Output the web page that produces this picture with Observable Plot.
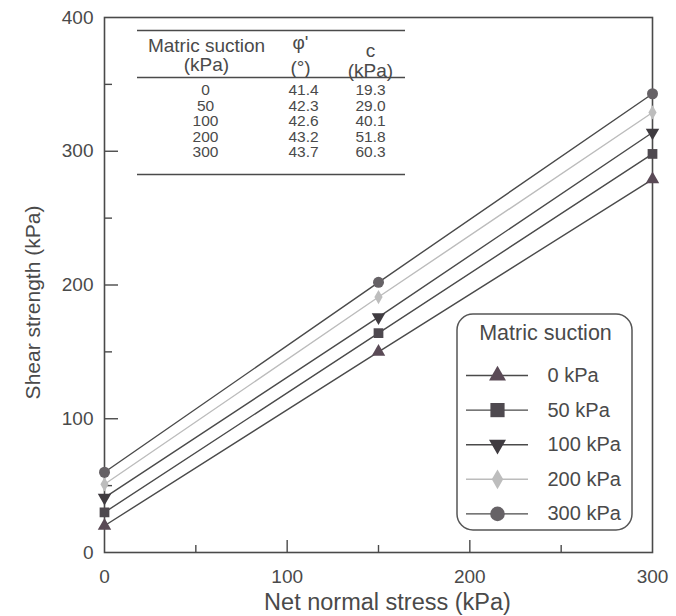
<!DOCTYPE html>
<html><head><meta charset="utf-8">
<script src="https://cdn.jsdelivr.net/npm/d3@7"></script>
<script src="https://cdn.jsdelivr.net/npm/@observablehq/plot@0.6"></script>
<style>html,body{margin:0;padding:0;background:#fff}</style>
</head><body><div id="chart"></div>
<script>
// ---- data ----
const seriesNames = ["0 kPa", "50 kPa", "100 kPa", "200 kPa", "300 kPa"];
const netStress = [0, 150, 300];
const strength0 = [20, 150, 279];
const strength50 = [30, 164, 298];
const strength100 = [41, 176, 314];
const strength200 = [51, 191, 329];
const strength300 = [60, 202, 343];
const strengthBySeries = [strength0, strength50, strength100, strength200, strength300];

const tableSuction = ["0", "50", "100", "200", "300"];
const tablePhi = ["41.4", "42.3", "42.6", "43.2", "43.7"];
const tableC = ["19.3", "29.0", "40.1", "51.8", "60.3"];

const xMajor = [0, 100, 200, 300];
const xMinor = [50, 150, 250];
const yMajor = [0, 100, 200, 300, 400];
const yMinor = [50, 150, 250, 350];

// ---- styles ----
const symbols = ["triangle", "square", "triangle", "diamond", "circle"];
const rotations = [0, 0, 180, 0, 0];
const markerFill = ["#5a4a56", "#4e494f", "#3f3b40", "#bdbdbd", "#666266"];
const lineStroke = ["#4a4a4a", "#4a4a4a", "#4a4a4a", "#bcbcbc", "#4a4a4a"];
const chartR = [5, 5.5, 5, 4.3, 5.5];
const legendR = [6.3, 8, 6.3, 6, 7.3];
const ink = "#4a4a4a";

const W = 676, H = 616, mL = 104, mR = 24, mT = 17, mB = 64;
const X = px => (px - mL) * 300 / (W - mL - mR);
const Y = py => (H - mB - py) * 400 / (H - mT - mB);

const rows = [];
seriesNames.forEach((s, i) => netStress.forEach((x, j) => rows.push({series: s, i, x, y: strengthBySeries[i][j]})));

const marks = [];
// axes (labels, inward ticks)
marks.push(Plot.axisX(xMajor, {tickSize: 0, tickPadding: 17, fontSize: 19, fill: ink, label: null}));
marks.push(Plot.axisX(xMajor.slice(1, -1), {tickSize: -12, tickFormat: () => "", stroke: ink, strokeWidth: 1.4, label: null}));
marks.push(Plot.axisX(xMinor, {tickSize: -7, tickFormat: () => "", stroke: ink, strokeWidth: 1.4, label: null}));
marks.push(Plot.axisY(yMajor, {tickSize: 0, tickPadding: 11, fontSize: 19, fill: ink, label: null}));
marks.push(Plot.axisY(yMajor.slice(1, -1), {tickSize: -14, tickFormat: () => "", stroke: ink, strokeWidth: 1.4, label: null}));
marks.push(Plot.axisY(yMinor, {tickSize: -8, tickFormat: () => "", stroke: ink, strokeWidth: 1.4, label: null}));
marks.push(Plot.frame({stroke: ink, strokeWidth: 1.6}));

// series lines and markers
seriesNames.forEach((s, i) => {
  const d = rows.filter(r => r.i === i);
  marks.push(Plot.line(d, {x: "x", y: "y", stroke: lineStroke[i], strokeWidth: 1.4}));
});
seriesNames.forEach((s, i) => {
  const d = rows.filter(r => r.i === i);
  marks.push(Plot.dot(d, {x: "x", y: "y", symbol: () => symbols[i], rotate: rotations[i], r: chartR[i], fill: markerFill[i], stroke: "none"}));
});

// axis titles
marks.push(Plot.text(["Net normal stress (kPa)"], {x: () => X(387), y: () => Y(602), fontSize: 23.5, fill: ink}));
marks.push(Plot.text(["Shear strength (kPa)"], {x: () => X(33), y: () => Y(302), rotate: -90, fontSize: 21, fill: ink}));

// inset table
marks.push(Plot.ruleY([30, 77, 174], {y: d => Y(d), x1: () => X(137), x2: () => X(405), stroke: ink, strokeWidth: 1.5}));
marks.push(Plot.text(["Matric suction\n(kPa)"], {x: () => X(206), y: () => Y(55), fontSize: 19, lineHeight: 1.0, fill: ink}));
marks.push(Plot.text(["φ'\n(°)"], {x: () => X(300), y: () => Y(53), fontSize: 19, lineHeight: 1.3, fill: ink}));
marks.push(Plot.text(["c\n(kPa)"], {x: () => X(370), y: () => Y(60), fontSize: 19, lineHeight: 1.05, fill: ink}));
marks.push(Plot.text([tableSuction.join("\n")], {x: () => X(205), y: () => Y(121), fontSize: 15.5, lineHeight: 1.0, fill: ink}));
marks.push(Plot.text([tablePhi.join("\n")], {x: () => X(303), y: () => Y(121), fontSize: 15.5, lineHeight: 1.0, fill: ink}));
marks.push(Plot.text([tableC.join("\n")], {x: () => X(370), y: () => Y(121), fontSize: 15.5, lineHeight: 1.0, fill: ink}));

// legend
marks.push(Plot.rect([0], {x1: () => X(457), x2: () => X(632), y1: () => Y(530), y2: () => Y(314), rx: 16, ry: 16, fill: "#fff", stroke: "#555", strokeWidth: 1.5}));
marks.push(Plot.text(["Matric suction"], {x: () => X(545), y: () => Y(333), fontSize: 21.5, fill: ink}));
seriesNames.forEach((s, i) => {
  const ly = 375 + i * 34.6;
  marks.push(Plot.ruleY([0], {y: () => Y(ly), x1: () => X(466), x2: () => X(528), stroke: lineStroke[i], strokeWidth: 1.4}));
  marks.push(Plot.dot([0], {x: () => X(497), y: () => Y(ly), symbol: () => symbols[i], rotate: rotations[i], r: legendR[i], fill: markerFill[i], stroke: "none"}));
  marks.push(Plot.text([s], {x: () => X(547), y: () => Y(ly), textAnchor: "start", fontSize: 20, fill: ink}));
});

const chart = Plot.plot({
  width: W, height: H,
  marginLeft: mL, marginRight: mR, marginTop: mT, marginBottom: mB,
  x: {domain: [0, 300]},
  y: {domain: [0, 400]},
  style: {fontFamily: "'Liberation Sans', Arial, sans-serif", background: "#fff", color: ink, overflow: "visible"},
  marks
});
document.getElementById("chart").appendChild(chart);
</script>
</body></html>
